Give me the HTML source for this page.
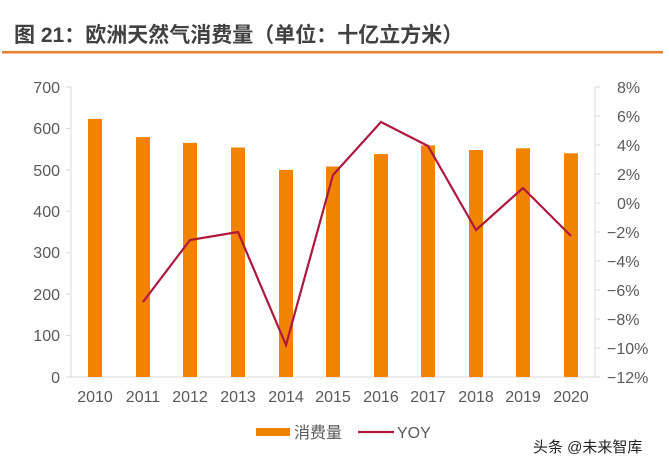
<!DOCTYPE html>
<html><head><meta charset="utf-8"><style>
html,body{margin:0;padding:0;background:#fff;}
body{width:669px;height:468px;overflow:hidden;position:relative;font-family:"Liberation Sans","Noto Sans CJK SC",sans-serif;}
</style></head><body>
<svg width="669" height="468" xmlns="http://www.w3.org/2000/svg" style="position:absolute;left:0;top:0">
<text x="14" y="42" font-size="21" font-weight="bold" fill="#404040" font-family="Liberation Sans,Noto Sans CJK SC,sans-serif">图 21：欧洲天然气消费量（单位：十亿立方米）</text>
<rect x="2" y="51" width="661" height="2.5" fill="#ED7D31"/>
<g stroke="#d9d9d9" stroke-width="1">
<line x1="71" y1="87" x2="71" y2="377"/><line x1="71" y1="377" x2="595" y2="377"/>
<line x1="66" y1="87" x2="71" y2="87"/><line x1="66" y1="128.4" x2="71" y2="128.4"/><line x1="66" y1="169.9" x2="71" y2="169.9"/><line x1="66" y1="211.3" x2="71" y2="211.3"/><line x1="66" y1="252.7" x2="71" y2="252.7"/><line x1="66" y1="294.1" x2="71" y2="294.1"/><line x1="66" y1="335.6" x2="71" y2="335.6"/><line x1="66" y1="377" x2="71" y2="377"/>
<line x1="595" y1="87" x2="595" y2="377"/>
<line x1="595" y1="87" x2="600" y2="87"/><line x1="595" y1="116" x2="600" y2="116"/><line x1="595" y1="145" x2="600" y2="145"/><line x1="595" y1="174" x2="600" y2="174"/><line x1="595" y1="203" x2="600" y2="203"/><line x1="595" y1="232" x2="600" y2="232"/><line x1="595" y1="261" x2="600" y2="261"/><line x1="595" y1="290" x2="600" y2="290"/><line x1="595" y1="319" x2="600" y2="319"/><line x1="595" y1="348" x2="600" y2="348"/><line x1="595" y1="377" x2="600" y2="377"/>
</g>
<g font-size="16" fill="#595959" text-anchor="end">
<text x="60" y="93">700</text><text x="60" y="134">600</text><text x="60" y="176">500</text><text x="60" y="217">400</text><text x="60" y="258">300</text><text x="60" y="300">200</text><text x="60" y="341">100</text><text x="60" y="383">0</text>
</g>
<g font-size="16" fill="#595959" text-anchor="start">
<text x="617" y="93">8%</text><text x="617" y="122">6%</text><text x="617" y="151">4%</text><text x="617" y="180">2%</text><text x="617" y="209">0%</text>
<text x="607" y="238">−2%</text><text x="607" y="267">−4%</text><text x="607" y="296">−6%</text><text x="607" y="325">−8%</text><text x="607" y="354">−10%</text><text x="607" y="383">−12%</text>
</g>
<g fill="#F08300">
<rect x="88" y="118.9" width="14" height="258.1"/>
<rect x="136" y="137.1" width="14" height="239.9"/>
<rect x="183" y="142.9" width="14" height="234.1"/>
<rect x="231" y="147.5" width="14" height="229.5"/>
<rect x="279" y="169.9" width="14" height="207.1"/>
<rect x="326" y="166.5" width="14" height="210.5"/>
<rect x="374" y="154.1" width="14" height="222.9"/>
<rect x="421" y="145.4" width="14" height="231.6"/>
<rect x="469" y="150" width="14" height="227"/>
<rect x="516" y="148.3" width="14" height="228.7"/>
<rect x="564" y="153.3" width="14" height="223.7"/>
</g>
<polyline fill="none" stroke="#B0173F" stroke-width="2.2" points="143,302 190,240 238,232 286,345 333,175 381,122 428,146 476,230 523,188 571,236"/>
<g font-size="16" fill="#595959" text-anchor="middle">
<text x="95" y="402">2010</text><text x="143" y="402">2011</text><text x="190" y="402">2012</text><text x="238" y="402">2013</text><text x="286" y="402">2014</text><text x="333" y="402">2015</text><text x="381" y="402">2016</text><text x="428" y="402">2017</text><text x="476" y="402">2018</text><text x="523" y="402">2019</text><text x="571" y="402">2020</text>
</g>
<rect x="256" y="428" width="34" height="8" fill="#F08300"/>
<text x="294" y="438" font-size="16" fill="#595959">消费量</text>
<line x1="358" y1="432" x2="394" y2="432" stroke="#B0173F" stroke-width="2.2"/>
<text x="397" y="438" font-size="16" fill="#595959">YOY</text>
<text x="533" y="452" font-size="15" fill="#222">头条 @未来智库</text>
</svg>
</body></html>
